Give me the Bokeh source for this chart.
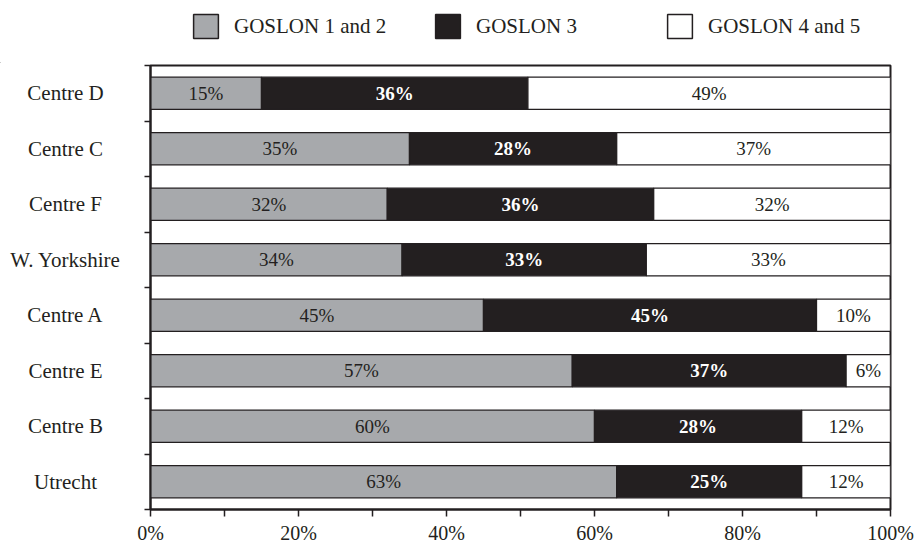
from bokeh.plotting import figure
from bokeh.layouts import column, row
from bokeh.models import (ColumnDataSource, LabelSet, Legend, LegendItem,
                          FixedTicker, PrintfTickFormatter, Range1d)
from bokeh.core.properties import value
from bokeh.embed import file_html
from bokeh.resources import INLINE

# Share of cases by GOSLON band for each centre (top to bottom)
centres = ["Centre D", "Centre C", "Centre F", "W. Yorkshire",
           "Centre A", "Centre E", "Centre B", "Utrecht"]
goslon_1_2 = [15, 35, 32, 34, 45, 57, 60, 63]
goslon_3 = [36, 28, 36, 33, 45, 37, 28, 25]
goslon_4_5 = [49, 37, 32, 33, 10, 6, 12, 12]
series_names = ["GOSLON 1 and 2", "GOSLON 3", "GOSLON 4 and 5"]
x_ticks = [0, 20, 40, 60, 80, 100]
x_minor_ticks = [10, 30, 50, 70, 90]

INK = "#231f20"
GREY = "#a7a9ac"
FONT = "Liberation Serif"

# page layout (pixels)
TOTAL_W, TOTAL_H = 917, 546
LEGEND_H = 63
NAMES_W = 136
NAME_CENTER_X = 65
BORDER_TOP, BORDER_BOTTOM, BORDER_LEFT, BORDER_RIGHT = 2, 35, 14, 27
LEGEND_X = [190, 432, 664]
LEGEND_Y = 22

n = len(centres)
ypos = [n - i - 0.5 for i in range(n)]
y_range = Range1d(0, n)
body_h = TOTAL_H - LEGEND_H

# ---- main bar chart ----
p = figure(width=TOTAL_W - NAMES_W, height=body_h, output_backend="svg",
           toolbar_location=None, x_range=Range1d(0, 100), y_range=y_range,
           min_border_left=BORDER_LEFT, min_border_right=BORDER_RIGHT,
           min_border_top=BORDER_TOP, min_border_bottom=BORDER_BOTTOM)
p.outline_line_color = INK
p.outline_line_width = 2
p.xgrid.visible = False
p.ygrid.visible = False

series = [goslon_1_2, goslon_3, goslon_4_5]
fills = [GREY, INK, "white"]
text_colors = [INK, "white", INK]
text_styles = ["normal", "bold", "normal"]

start = [0] * n
for vals, fill, tcol, tstyle in zip(series, fills, text_colors, text_styles):
    left = list(start)
    right = [a + b for a, b in zip(start, vals)]
    src = ColumnDataSource(dict(
        y=ypos, left=left, right=right,
        mid=[(a + b) / 2 for a, b in zip(left, right)],
        txt=[f"{v}%" for v in vals],
    ))
    p.hbar(y="y", left="left", right="right", height=0.58, source=src,
           fill_color=fill, line_color=INK, line_width=1.3)
    p.add_layout(LabelSet(x="mid", y="y", text="txt", source=src,
                          text_align="center", text_baseline="middle",
                          text_color=tcol, text_font=value(FONT),
                          text_font_style=tstyle, text_font_size="19px"))
    start = right

p.xaxis.ticker = FixedTicker(ticks=x_ticks, minor_ticks=x_minor_ticks)
p.xaxis.formatter = PrintfTickFormatter(format="%d%%")
p.xaxis.axis_line_color = INK
p.xaxis.axis_line_width = 2
p.xaxis.major_tick_line_color = INK
p.xaxis.minor_tick_line_color = INK
p.xaxis.major_tick_line_width = 1.5
p.xaxis.minor_tick_line_width = 1.5
p.xaxis.major_tick_in = 0
p.xaxis.major_tick_out = 7
p.xaxis.minor_tick_in = 0
p.xaxis.minor_tick_out = 7
p.xaxis.major_label_standoff = 5
p.xaxis.major_label_text_font = FONT
p.xaxis.major_label_text_font_size = "20px"
p.xaxis.major_label_text_color = INK

# ticks between the centres, names drawn in their own panel
p.yaxis.ticker = FixedTicker(ticks=list(range(n + 1)), minor_ticks=[])
p.yaxis.major_label_overrides = {i: "" for i in range(n + 1)}
p.yaxis.major_label_standoff = 0
p.yaxis.axis_line_color = INK
p.yaxis.axis_line_width = 2
p.yaxis.major_tick_line_color = INK
p.yaxis.major_tick_line_width = 1.5
p.yaxis.major_tick_in = 0
p.yaxis.major_tick_out = 6

# ---- centre names ----
names = figure(width=NAMES_W, height=body_h, output_backend="svg",
               toolbar_location=None, x_range=Range1d(0, NAMES_W),
               y_range=y_range, x_axis_type=None, y_axis_type=None,
               min_border_left=0, min_border_right=0,
               min_border_top=BORDER_TOP, min_border_bottom=BORDER_BOTTOM)
names.outline_line_color = None
names.xgrid.visible = False
names.ygrid.visible = False
names.text(x=[NAME_CENTER_X] * n, y=ypos, text=centres,
           text_align="center", text_baseline="middle",
           text_color=INK, text_font=value(FONT), text_font_size="21px")

# ---- legend strip ----
# the swatch renderers hold one bar placed outside the visible range, so
# only their legend glyphs show
leg_fig = figure(width=TOTAL_W, height=LEGEND_H, output_backend="svg",
                 toolbar_location=None, x_range=Range1d(0, 1),
                 y_range=Range1d(0, 1), x_axis_type=None, y_axis_type=None,
                 min_border=0)
leg_fig.outline_line_color = None
leg_fig.xgrid.visible = False
leg_fig.ygrid.visible = False
for name, fill, lx in zip(series_names, fills, LEGEND_X):
    r = leg_fig.hbar(y=[-10], left=[-10], right=[-9], height=1,
                     fill_color=fill, line_color=INK, line_width=1.5)
    leg = Legend(items=[LegendItem(label=name, renderers=[r])],
                 location=(lx, LEGEND_Y), orientation="horizontal",
                 glyph_width=31, glyph_height=30, label_standoff=13,
                 label_text_font=FONT, label_text_font_size="21px",
                 label_text_color=INK, padding=0, margin=0,
                 border_line_color=None, background_fill_alpha=0)
    leg_fig.add_layout(leg)

layout = column(leg_fig, row(names, p))
open("out.html", "w").write(file_html(layout, INLINE))
